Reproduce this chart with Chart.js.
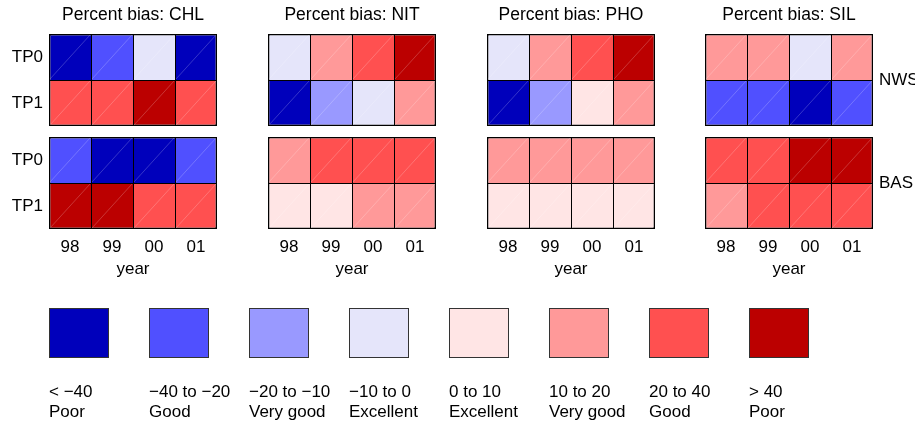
<!DOCTYPE html>
<html>
<head>
<meta charset="utf-8">
<title>Percent bias</title>
<script src="https://cdn.jsdelivr.net/npm/chart.js@4.4.1/dist/chart.umd.min.js"></script>
<style>
  html, body { margin: 0; padding: 0; background: #fff; overflow: hidden; }
  body { width: 915px; height: 421px; position: relative; }
  .panel { position: absolute; top: 0; }
  #legendBox { position: absolute; left: 0; top: 290px; }
</style>
</head>
<body>
<div class="panel" style="left:0px"><canvas id="chartCHL" width="266" height="280"></canvas></div>
<div class="panel" style="left:219px"><canvas id="chartNIT" width="266" height="280"></canvas></div>
<div class="panel" style="left:438px"><canvas id="chartPHO" width="266" height="280"></canvas></div>
<div class="panel" style="left:656px"><canvas id="chartSIL" width="266" height="280"></canvas></div>
<div id="legendBox"><canvas id="legendChart" width="915" height="131"></canvas></div>
<script>
const years = ['98', '99', '00', '01'];
const variables = ['CHL', 'NIT', 'PHO', 'SIL'];
const regions = ['NWS', 'BAS'];
const runs = ['TP0', 'TP1'];

// bias class of each cell (index into classColors), rows are TP0 then TP1
const chlNWS = [[0, 1, 3, 0], [6, 6, 7, 6]];
const chlBAS = [[1, 0, 0, 1], [7, 7, 6, 6]];
const nitNWS = [[3, 5, 6, 7], [0, 2, 3, 5]];
const nitBAS = [[5, 6, 6, 6], [4, 4, 5, 5]];
const phoNWS = [[3, 5, 6, 7], [0, 2, 4, 5]];
const phoBAS = [[5, 5, 5, 5], [4, 4, 4, 4]];
const silNWS = [[5, 5, 3, 5], [1, 1, 0, 1]];
const silBAS = [[6, 6, 7, 7], [5, 6, 6, 6]];

const classColors = ['#0000bb', '#5050ff', '#9999ff', '#e5e5fa', '#ffe5e5', '#ff9999', '#ff5050', '#bb0000'];
const classRanges = ['< \u221240', '\u221240 to \u221220', '\u221220 to \u221210', '\u221210 to 0', '0 to 10', '10 to 20', '20 to 40', '> 40'];
const classRatings = ['Poor', 'Good', 'Very good', 'Excellent', 'Excellent', 'Very good', 'Good', 'Poor'];

const panelData = {
    CHL: [chlNWS, chlBAS],
    NIT: [nitNWS, nitBAS],
    PHO: [phoNWS, phoBAS],
    SIL: [silNWS, silBAS]
};

// gap between the NWS and BAS blocks, in row units
const blockGap = 11 / 46;
const yMax = 4 + blockGap;

Chart.defaults.font.family = '"Liberation Sans", Arial, sans-serif';
Chart.defaults.font.size = 17;
Chart.defaults.color = '#000';

// bottom of a row: NWS block sits above BAS, TP0 above TP1
function rowBase(r, t) {
    return (r === 0 ? 2 + blockGap : 0) + (t === 0 ? 1 : 0);
}

// left axis: run names at row middles, right axis: region names at block middles
const runTicks = [];
const regionTicks = [];
regions.forEach((reg, r) => {
    runs.forEach((run, t) => runTicks.push({ value: rowBase(r, t) + 0.5, label: run }));
    regionTicks.push({ value: rowBase(r, 1) + 1, label: reg });
});

function buildDatasets(blocks) {
    const sets = [];
    blocks.forEach((block, r) => {
        block.forEach((row, t) => {
            const lo = rowBase(r, t);
            sets.push({
                label: regions[r] + ' ' + runs[t],
                data: row.map(() => [lo, lo + 1]),
                backgroundColor: row.map(c => classColors[c]),
                borderColor: '#000',
                borderWidth: row.map((c, i) => ({
                    left: i === 0 ? 1.5 : 1,
                    top: t === 0 ? 1.5 : 1,
                    right: i === row.length - 1 ? 1.5 : 0,
                    bottom: t === block.length - 1 ? 1.5 : 0
                })),
                borderSkipped: false,
                inflateAmount: 0,
                grouped: false,
                barPercentage: 1,
                categoryPercentage: 1
            });
        });
    });
    return sets;
}

// faint diagonal seam across each cell
const cellSeams = {
    id: 'cellSeams',
    afterDatasetsDraw(chart) {
        const ctx = chart.ctx;
        ctx.save();
        ctx.strokeStyle = 'rgba(255, 255, 255, 0.35)';
        ctx.lineWidth = 0.6;
        chart.data.datasets.forEach((ds, i) => {
            chart.getDatasetMeta(i).data.forEach(bar => {
                const p = bar.getProps(['x', 'y', 'base', 'width'], true);
                const top = Math.min(p.y, p.base);
                const bottom = Math.max(p.y, p.base);
                ctx.beginPath();
                ctx.moveTo(p.x - p.width / 2 + 1, bottom - 1);
                ctx.lineTo(p.x + p.width / 2 - 1, top + 1);
                ctx.stroke();
            });
        });
        ctx.restore();
    }
};

function renderPanel(name, index) {
    const ctx = document.getElementById('chart' + name).getContext('2d');
    const first = index === 0;
    const last = index === variables.length - 1;
    new Chart(ctx, {
        type: 'bar',
        data: {
            labels: years,
            datasets: buildDatasets(panelData[name])
        },
        options: {
            responsive: false,
            animation: false,
            layout: { padding: 0 },
            plugins: {
                legend: { display: false },
                tooltip: { enabled: false },
                title: {
                    display: true,
                    text: 'Percent bias: ' + name,
                    font: { size: 17.5, weight: 'normal', lineHeight: 1.2 },
                    color: '#000',
                    padding: { top: 5, bottom: 8 }
                }
            },
            scales: {
                x: {
                    type: 'category',
                    offset: true,
                    grid: { display: false, drawTicks: false },
                    border: { display: false },
                    ticks: { padding: 9.7, color: '#000', font: { size: 17, lineHeight: 1 } },
                    title: { display: true, text: 'year', color: '#000', padding: { top: 0, bottom: 0 } },
                    afterFit: scale => { scale.height = 51; }
                },
                y: {
                    type: 'linear',
                    position: 'left',
                    min: 0,
                    max: yMax,
                    grid: { display: false, drawTicks: false },
                    border: { display: false },
                    afterBuildTicks: scale => { scale.ticks = runTicks.map(tk => ({ value: tk.value })); },
                    ticks: {
                        padding: 6,
                        color: '#000',
                        callback: (v, i) => first ? runTicks[i].label : ''
                    },
                    afterFit: scale => { scale.width = 49; }
                },
                y2: {
                    type: 'linear',
                    position: 'right',
                    min: 0,
                    max: yMax,
                    grid: { display: false, drawTicks: false },
                    border: { display: false },
                    afterBuildTicks: scale => { scale.ticks = regionTicks.map(tk => ({ value: tk.value })); },
                    ticks: {
                        padding: 6,
                        color: '#000',
                        callback: (v, i) => last ? regionTicks[i].label : ''
                    },
                    afterFit: scale => { scale.width = 49; }
                }
            }
        },
        plugins: [cellSeams]
    });
}

function renderLegend() {
    const ctx = document.getElementById('legendChart').getContext('2d');
    new Chart(ctx, {
        type: 'bar',
        data: {
            labels: classRanges.map((r, i) => [r, classRatings[i]]),
            datasets: [{
                data: classColors.map(() => 1),
                backgroundColor: classColors,
                borderColor: '#333',
                borderWidth: 1,
                borderSkipped: false,
                inflateAmount: 0,
                barPercentage: 0.6,
                categoryPercentage: 1
            }]
        },
        options: {
            responsive: false,
            animation: false,
            layout: { padding: { top: 18, left: 29, right: 86, bottom: 0 } },
            plugins: {
                legend: { display: false },
                tooltip: { enabled: false }
            },
            scales: {
                x: {
                    grid: { display: false, drawTicks: false },
                    border: { display: false },
                    ticks: {
                        align: 'start',
                        labelOffset: -30,
                        padding: 25,
                        color: '#000',
                        maxRotation: 0,
                        autoSkip: false,
                        font: { size: 17, lineHeight: 1.15 }
                    },
                    afterFit: scale => { scale.height = 63; }
                },
                y: {
                    display: false,
                    min: 0,
                    max: 1
                }
            }
        }
    });
}

window.onload = function() {
    variables.forEach(renderPanel);
    renderLegend();
};
</script>
</body>
</html>
